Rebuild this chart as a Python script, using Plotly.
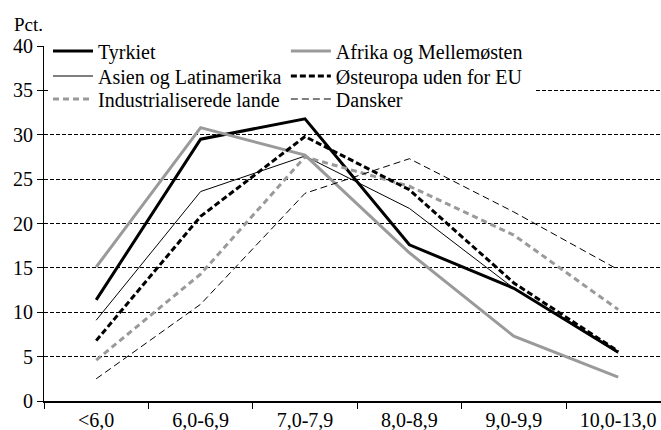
import plotly.graph_objects as go

categories = ["<6,0", "6,0-6,9", "7,0-7,9", "8,0-8,9", "9,0-9,9", "10,0-13,0"]

tyrkiet = [11.4, 29.5, 31.8, 17.6, 12.7, 5.5]
afrika = [15.1, 30.8, 27.7, 16.7, 7.3, 2.7]
asien = [9.1, 23.6, 27.6, 21.7, 12.7, 5.4]
osteuropa = [6.8, 20.8, 29.8, 23.8, 13.3, 5.6]
industri = [4.6, 14.3, 27.5, 24.2, 18.7, 10.3]
dansker = [2.5, 10.9, 23.4, 27.3, 21.3, 14.8]

# (name, values, line style, legend id, legend x (paper), legend centre y (px))
series = [
    ("Tyrkiet", tyrkiet, dict(color="black", width=3, dash="solid"), "legend", 0.0065, 51),
    ("Asien og Latinamerika", asien, dict(color="black", width=1, dash="solid"), "legend2", 0.0065, 76),
    ("Industrialiserede lande", industri, dict(color="#9a9a9a", width=3, dash="6px,4px"), "legend3", 0.0065, 99),
    ("Afrika og Mellemøsten", afrika, dict(color="#9a9a9a", width=3, dash="solid"), "legend4", 0.392, 51),
    ("Østeuropa uden for EU", osteuropa, dict(color="black", width=3, dash="6px,3px"), "legend5", 0.392, 76),
    ("Dansker", dansker, dict(color="black", width=1, dash="7px,4px"), "legend6", 0.392, 99),
]

FONT = "Liberation Serif"
PLOT_TOP, PLOT_BOTTOM = 46, 401
PLOT_H = PLOT_BOTTOM - PLOT_TOP

fig = go.Figure()
legends = {}
for name, vals, line, leg, lx, lcy in series:
    fig.add_trace(go.Scatter(x=categories, y=vals, mode="lines", name=name,
                             line=line, legend=leg))
    legends[leg] = dict(
        bgcolor="rgba(0,0,0,0)", borderwidth=0,
        font=dict(family=FONT, size=20, color="black"),
        x=lx, y=(PLOT_BOTTOM - lcy) / PLOT_H,
        xanchor="left", yanchor="middle", orientation="v", itemwidth=40,
    )

fig.update_layout(
    width=661, height=430,
    margin=dict(l=44, r=0, t=PLOT_TOP, b=430 - PLOT_BOTTOM, autoexpand=False),
    paper_bgcolor="white", plot_bgcolor="white",
    font=dict(family=FONT, size=20, color="black"),
    showlegend=True,
    xaxis=dict(
        type="category", range=[-0.5, 5.41], automargin=False,
        showline=True, linecolor="black", linewidth=1.5,
        ticks="outside", ticklen=6, tickcolor="black", tickson="boundaries",
        showgrid=False, tickfont=dict(family=FONT, size=20, color="black"),
    ),
    yaxis=dict(
        range=[0, 40], tickvals=[0, 5, 10, 15, 20, 25, 30, 35, 40], automargin=False,
        showline=True, linecolor="black", linewidth=1,
        ticks="outside", ticklen=6, tickcolor="black",
        showgrid=True, gridcolor="black", gridwidth=1, griddash="4px,2px",
        zeroline=False, tickfont=dict(family=FONT, size=20, color="black"),
    ),
    shapes=[dict(type="rect", xref="x", yref="y", x0=-0.45, x1=4.2, y0=32.4, y1=41,
                 fillcolor="white", line=dict(width=0), layer="between")],
    annotations=[dict(text="Pct.", xref="paper", yref="paper",
                      x=-32/617, y=(PLOT_BOTTOM - 24) / PLOT_H, xanchor="left", yanchor="middle",
                      showarrow=False, font=dict(family=FONT, size=19, color="black"))],
    **legends,
)

fig.write_html("out.html", config={"displayModeBar": False},
               post_script="document.body.style.margin='0';")
